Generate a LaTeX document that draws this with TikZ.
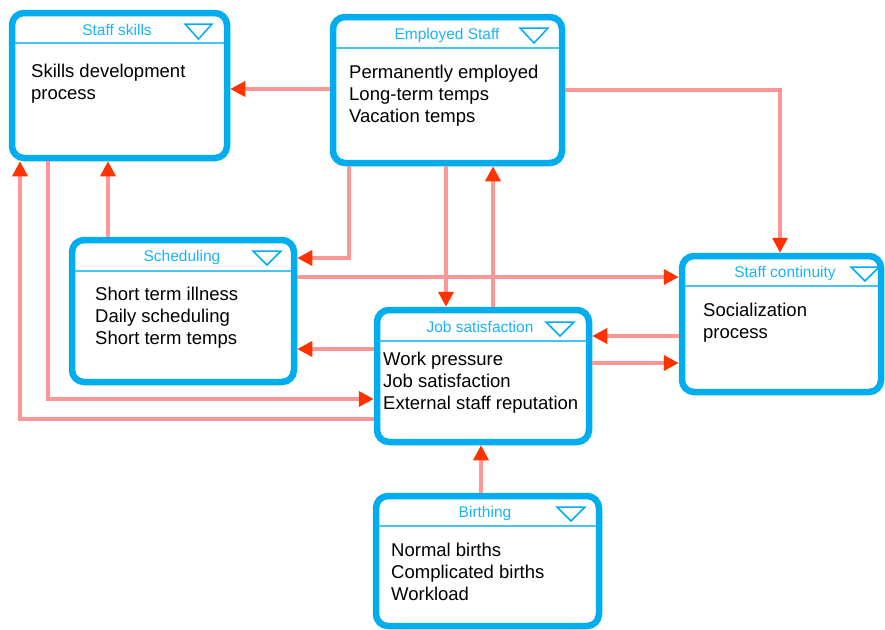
\documentclass[tikz,border=0pt]{standalone}
\usepackage{fontspec}
\setmainfont{Liberation Sans}
\usetikzlibrary{arrows.meta}
\definecolor{boxblue}{RGB}{0,174,239}
\definecolor{titleblue}{RGB}{28,180,242}
\definecolor{seplue}{RGB}{70,196,245}
\definecolor{linkpink}{RGB}{255,150,150}
\definecolor{tipred}{RGB}{255,50,0}
\tikzset{
  panel/.style={draw=boxblue, line width=6.5pt, fill=white, rounded corners=12pt, rectangle, inner sep=0pt},
  sepline/.style={draw=seplue, line width=1.5pt},
  titletext/.style={text=titleblue, font=\fontsize{15.5}{18}\selectfont, anchor=base, inner sep=0pt},
  bodytext/.style={text=black, font=\fontsize{18.5}{22}\selectfont, anchor=base west, align=left, inner sep=0pt},
  menutri/.style={draw=boxblue, line width=1.5pt, line join=miter},
  link/.style={draw=linkpink, line width=3.5pt, -{Triangle[length=15pt,width=15pt,color=tipred]}}
}
\begin{document}
\begin{tikzpicture}[x=1pt,y=-1pt]
\useasboundingbox (0,0) rectangle (885,629);

% boxes
\node[panel, minimum width=215pt, minimum height=145pt] (ss) at (119.5,85.5) {};
\node[panel, minimum width=229pt, minimum height=146pt] (es) at (447.5,90) {};
\node[panel, minimum width=199pt, minimum height=136pt] (sc) at (781.5,324) {};
\node[panel, minimum width=222pt, minimum height=142pt] (sch) at (183,311) {};
\node[panel, minimum width=212pt, minimum height=132pt] (js) at (483,376) {};
\node[panel, minimum width=223pt, minimum height=130pt] (bir) at (487.5,561) {};

% header separators
\draw[sepline] (15,43) -- (224,43);
\draw[sepline] (336,48) -- (559,48);
\draw[sepline] (685,286) -- (878,286);
\draw[sepline] (75,271) -- (291,271);
\draw[sepline] (380,341) -- (586,341);
\draw[sepline] (379,526) -- (596,526);

% menu triangles
\draw[menutri] (185,24) -- (212,24) -- (198.5,39) -- cycle;
\draw[menutri] (520,28) -- (548,28) -- (534,43) -- cycle;
\draw[menutri] (851,267) -- (879,267) -- (865,281) -- cycle;
\draw[menutri] (253,251) -- (281,251) -- (267,265) -- cycle;
\draw[menutri] (546,322) -- (574,322) -- (560,336) -- cycle;
\draw[menutri] (557,507) -- (585,507) -- (571,521) -- cycle;

% titles
\node[titletext] (ssT) at (117,35) {Staff skills};
\node[titletext] (esT) at (447,39.3) {Employed Staff};
\node[titletext] (scT) at (785,277.3) {Staff continuity};
\node[titletext] (schT) at (182,261.7) {Scheduling};
\node[titletext] (jsT) at (480,332.3) {Job satisfaction};
\node[titletext] (birT) at (485,517.3) {Birthing};

% bodies (anchor = baseline of last line)
\node[bodytext] (ssB) at (31,99.3) {Skills development\\process};
\node[bodytext] (esB) at (349,122) {Permanently employed\\Long-term temps\\Vacation temps};
\node[bodytext] (scB) at (703,338.7) {Socialization\\process};
\node[bodytext] (schB) at (95,344.7) {Short term illness\\Daily scheduling\\Short term temps};
\node[bodytext] (jsB) at (383,409) {Work pressure\\Job satisfaction\\External staff reputation};
\node[bodytext] (birB) at (391,600.7) {Normal births\\Complicated births\\Workload};

% connectors
\draw[link] (es.west |- 0,89) -- (ss.east |- 0,89);
\draw[link] (es.east |- 0,90) -| (sc.north -| 780,0);
\draw[link] (es.south -| 349,0) |- (sch.east |- 0,258);
\draw[link] (es.south -| 446,0) -- (js.north -| 446,0);
\draw[link] (js.north -| 493,0) -- (es.south -| 493,0);
\draw[link] (sch.north -| 108,0) -- (ss.south -| 108,0);
\draw[link] (sch.east |- 0,277) -- (sc.west |- 0,277);
\draw[link] (js.west |- 0,349) -- (sch.east |- 0,349);
\draw[link] (sc.west |- 0,336) -- (js.east |- 0,336);
\draw[link] (js.east |- 0,363) -- (sc.west |- 0,363);
\draw[link] (ss.south -| 48,0) |- (js.west |- 0,399);
\draw[link] (js.west |- 0,419) -| (ss.south -| 20,0);
\draw[link] (bir.north -| 481,0) -- (js.south -| 481,0);
\end{tikzpicture}
\end{document}
